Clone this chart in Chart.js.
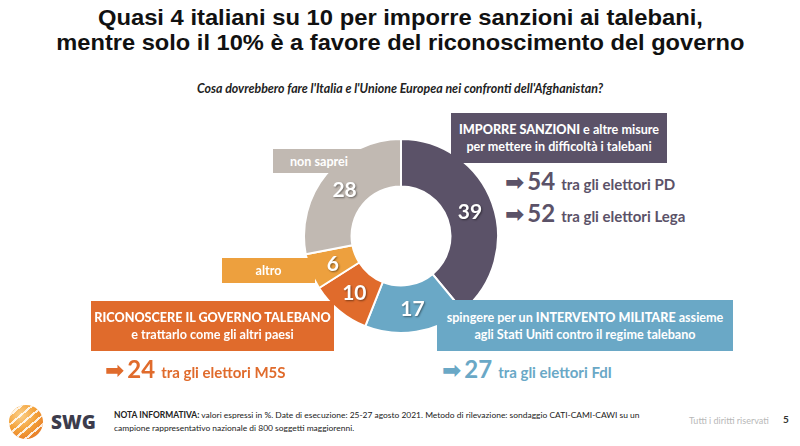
<!DOCTYPE html>
<html><head><meta charset="utf-8">
<script src="https://cdn.jsdelivr.net/npm/chart.js@4"></script>
<style>
html,body{margin:0;padding:0;background:#fff;}
#wrap{position:relative;width:800px;height:446px;overflow:hidden;font-family:Lato,"Open Sans",sans-serif;}
.abs{position:absolute;white-space:nowrap;}
#title{left:0;width:800px;top:6px;text-align:center;font-weight:700;color:#111;font-family:"Liberation Sans",Arial,sans-serif;font-size:21.8px;line-height:24.5px;}
#title div{display:block;transform-origin:50% 50%;}
#sub{left:0;width:800px;top:81px;text-align:center;font-style:italic;font-weight:700;font-size:12.4px;color:#222;}
.box{position:absolute;color:#fff;font-weight:700;text-align:center;display:flex;flex-direction:column;justify-content:center;font-size:12.6px;line-height:17px;}
.note{font-size:15px;font-weight:700;line-height:30px;}
.note span{line-height:30px;}
.note .arr{font-family:"DejaVu Sans";font-size:23px;margin-right:3px;}
.note .num{font-size:24px;margin-right:6px;}
#foot{left:114px;top:409px;font-size:8.45px;line-height:13px;color:#222;}
#chartBox{position:absolute;left:303px;top:138px;width:196px;height:196px;}
</style></head>
<body><div id="wrap">
<div id="title" class="abs"><div id="t1">Quasi 4 italiani su 10 per imporre sanzioni ai talebani,</div><div id="t2">mentre solo il 10% è a favore del riconoscimento del governo</div></div>
<div id="sub" class="abs">Cosa dovrebbero fare l'Italia e l'Unione Europea nei confronti dell'Afghanistan?</div>
<div id="chartBox"><canvas id="c" width="196" height="196"></canvas></div>
<div id="b0" class="box" style="left:451px;top:113px;width:216px;height:50px;"></div>
<div id="b1" class="box" style="left:437px;top:300px;width:296px;height:51px;"></div>
<div id="b2" class="box" style="left:91px;top:301px;width:243px;height:50px;"></div>
<div id="b3" class="box" style="left:222px;top:258px;width:93px;height:25px;"></div>
<div id="b4" class="box" style="left:273px;top:149px;width:92px;height:24px;"></div>
<div id="n0" class="abs note" style="left:505px;top:166px;"></div>
<div id="n1" class="abs note" style="left:505px;top:198px;"></div>
<div id="n2" class="abs note" style="left:105px;top:354px;"></div>
<div id="n3" class="abs note" style="left:442px;top:354px;"></div>
<div id="logo" class="abs" style="left:9px;top:405px;width:34px;height:34px;border-radius:50%;background:radial-gradient(circle at 35% 30%,#fbd08a 0%,#f3a23a 45%,#e0671e 100%);overflow:hidden;">
  <div style="position:absolute;left:-10px;top:-10px;width:60px;height:60px;background:repeating-linear-gradient(-40deg,transparent 0 5px,rgba(255,255,255,0.85) 5px 7px);"></div>
</div>
<div class="abs" style="left:51px;top:409px;font-size:19px;font-weight:900;color:#3c3c4c;font-family:'Open Sans',sans-serif;">SWG</div>
<div id="foot" class="abs"><b>NOTA INFORMATIVA:</b> valori espressi in %. Date di esecuzione: 25-27 agosto 2021. Metodo di rilevazione: sondaggio CATI-CAMI-CAWI su un<br>campione rappresentativo nazionale di 800 soggetti maggiorenni.</div>
<div class="abs" style="left:689px;top:415px;font-size:9px;color:#b8b8b8;">Tutti i diritti riservati</div>
<div class="abs" style="left:783px;top:413px;font-size:10px;font-weight:700;color:#333;">5</div>
</div>
<script>
// ---- data ----
const categories = ["IMPORRE SANZIONI e altre misure per mettere in difficoltà i talebani",
  "spingere per un INTERVENTO MILITARE assieme agli Stati Uniti contro il regime talebano",
  "RICONOSCERE IL GOVERNO TALEBANO e trattarlo come gli altri paesi",
  "altro", "non saprei"];
const boxLines = [
  ["<b>IMPORRE SANZIONI</b> e altre misure","per mettere in difficoltà i talebani"],
  ["spingere per un <b>INTERVENTO MILITARE</b> assieme","agli Stati Uniti contro il regime talebano"],
  ["<b>RICONOSCERE IL GOVERNO TALEBANO</b>","e trattarlo come gli altri paesi"],
  ["altro"],["non saprei"]];
const values = [39, 17, 10, 6, 28];
const colors = ["#5b5268", "#6aa8c6", "#e06b2c", "#eda03e", "#c1b9b2"];
const voterValues = [54, 52, 24, 27];
const voterGroups = ["PD", "Lega", "M5S", "FdI"];
const voterColorIdx = [0, 0, 2, 1];

// ---- boxes & notes ----
boxLines.forEach((ls,i)=>{
  const el=document.getElementById('b'+i);
  el.style.background=colors[i];
  el.innerHTML=ls.map(l=>'<div>'+l+'</div>').join('');
});
voterValues.forEach((v,i)=>{
  const el=document.getElementById('n'+i);
  el.style.color=colors[voterColorIdx[i]];
  el.innerHTML='<span class="arr">\u27A1\uFE0E</span><span class="num">'+v+'</span>tra gli elettori '+voterGroups[i];
});

// ---- fit title lines horizontally ----
(function(){
  const targets={t1:[100,705],t2:[57,745]};
  for(const id in targets){
    const d=document.getElementById(id);
    const sp=document.createElement('span'); sp.textContent=d.textContent; d.textContent=''; d.appendChild(sp);
    sp.style.display='inline-block';
    const w=sp.getBoundingClientRect().width;
    const tw=targets[id][1]-targets[id][0];
    sp.style.transform='scaleX('+(tw/w)+')';
  }
})();

// ---- chart ----
const labelPlugin={id:'sliceLabels',afterDatasetsDraw(chart){
  const ctx=chart.ctx; const meta=chart.getDatasetMeta(0);
  ctx.save();
  ctx.font='bold 21px Lato, "Open Sans", sans-serif';
  ctx.textAlign='center'; ctx.textBaseline='middle';
  ctx.shadowColor='rgba(0,0,0,0.45)'; ctx.shadowBlur=2; ctx.shadowOffsetX=1; ctx.shadowOffsetY=1;
  ctx.fillStyle='#fff';
  meta.data.forEach((arc,i)=>{const p=arc.tooltipPosition(); ctx.fillText(String(values[i]),p.x,p.y+1);});
  ctx.restore();
}};
new Chart(document.getElementById('c'),{
  type:'doughnut',
  data:{labels:categories,datasets:[{data:values,backgroundColor:colors,borderColor:'#fff',borderWidth:2}]},
  options:{responsive:false,animation:false,cutout:'51%',layout:{padding:0},
    plugins:{legend:{display:false},tooltip:{enabled:false}}},
  plugins:[labelPlugin]
});
</script>
</body></html>
